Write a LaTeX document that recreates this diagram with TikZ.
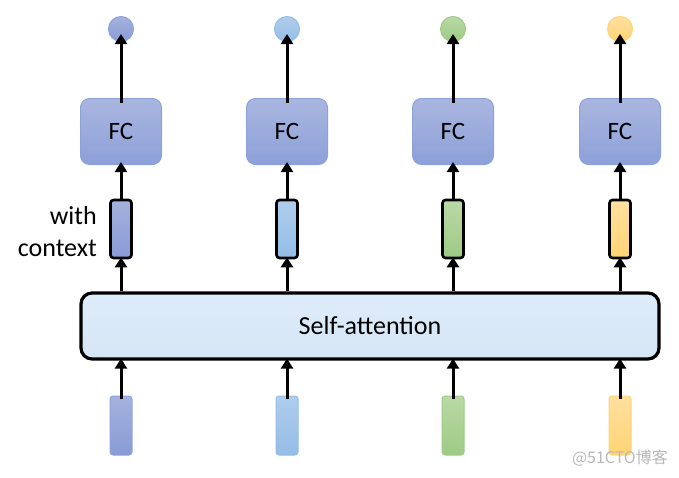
\documentclass[tikz,border=0pt]{standalone}
\usepackage{fontspec}
\setmainfont{Carlito}
\newfontfamily\cjkfont{Noto Sans CJK SC}
\usetikzlibrary{arrows.meta}
\definecolor{fcTop}{RGB}{170,182,224}
\definecolor{fcBot}{RGB}{140,160,216}
\definecolor{fcLine}{RGB}{140,163,218}
\definecolor{bTop}{RGB}{166,178,222}
\definecolor{bBot}{RGB}{136,155,214}
\definecolor{lbTop}{RGB}{176,205,237}
\definecolor{lbBot}{RGB}{148,189,230}
\definecolor{gTop}{RGB}{186,217,166}
\definecolor{gBot}{RGB}{158,202,132}
\definecolor{yTop}{RGB}{255,224,160}
\definecolor{yBot}{RGB}{255,212,115}
\definecolor{saTop}{RGB}{222,236,250}
\definecolor{saBot}{RGB}{214,230,246}
\tikzset{
  x=1pt, y=-1pt,
  arr/.style={line width=3pt, -{Triangle[width=12pt,length=10pt]}},
  fcbox/.style={draw=fcLine, line width=1pt, rounded corners=9pt, minimum width=81pt, minimum height=66pt, inner sep=0pt, top color=fcTop, bottom color=fcBot, font=\fontsize{25}{28}\selectfont},
  ctxvec/.style={draw=black, line width=2.6pt, rounded corners=3pt, minimum width=21pt, minimum height=58pt, inner sep=0pt},
  invec/.style={line width=1pt, rounded corners=3pt, minimum width=22pt, minimum height=59pt, inner sep=0pt},
  outdot/.style={circle, line width=1pt, minimum size=25pt, inner sep=0pt},
  label/.style={font=\fontsize{26}{32}\selectfont, align=right, inner sep=0pt}
}
\begin{document}
\begin{tikzpicture}
\useasboundingbox (0,0) rectangle (679,477);
% self-attention
\node[draw=black, line width=3.2pt, rounded corners=11pt, top color=saTop, bottom color=saBot, minimum width=578pt, minimum height=66pt, inner sep=0pt, font=\fontsize{26}{30}\selectfont] (sa) at (370,326) {Self-attention};
% columns
\foreach \i/\x/\t/\b/\l in {1/121/bTop/bBot/fcLine, 2/287/lbTop/lbBot/lbBot, 3/453/gTop/gBot/gBot, 4/620/yTop/yBot/yBot}{
  \node[outdot, draw=\l, top color=\t, bottom color=\b] (o\i) at (\x,29) {};
  \node[fcbox] (f\i) at (\x,131.5) {FC};
  \node[ctxvec, top color=\t, bottom color=\b] (c\i) at (\x,229) {};
  \node[invec, draw=\l, top color=\t, bottom color=\b] (in\i) at (\x,425.5) {};
  \draw[arr] ([yshift=-5pt]f\i.north) -- ([yshift=8pt]o\i.south);
  \draw[arr] (c\i.north) -- ([yshift=3pt]f\i.south);
  \draw[arr] (sa.north -| c\i) -- ([yshift=2pt]c\i.south);
  \draw[arr] ([yshift=-3pt]in\i.north) -- ([yshift=2pt]sa.south -| in\i);
}
\node[label, anchor=east] (ctx) at (97,232) {with\\context};
\node[text=black!28, font=\cjkfont\fontsize{16}{18}\selectfont, anchor=east, inner sep=0pt] (wm) at (668,458) {@51CTO博客};
\end{tikzpicture}
\end{document}
